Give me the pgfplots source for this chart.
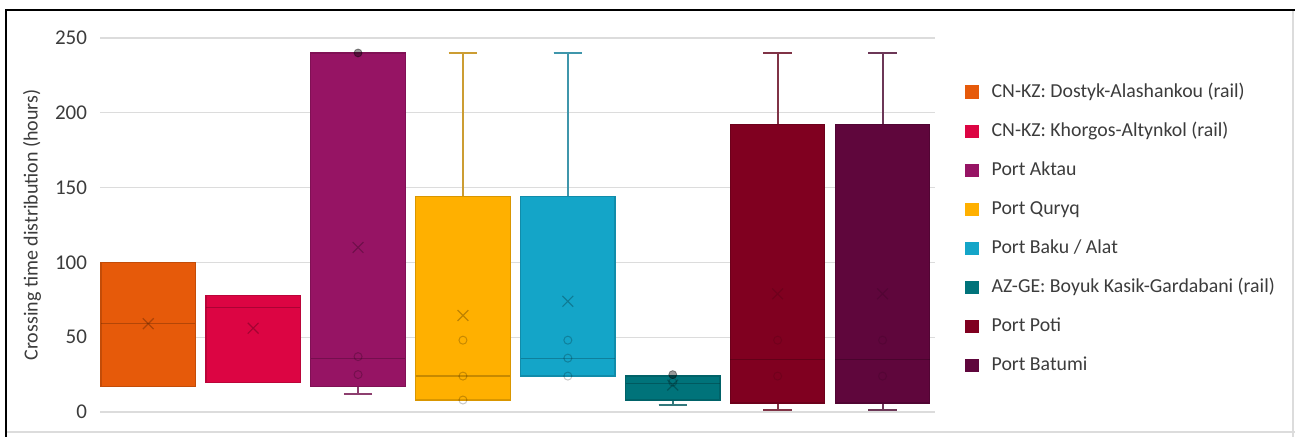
\documentclass[border=0pt]{standalone}
\usepackage{fontspec}
\setmainfont{Carlito}
\usepackage{pgfplots}
\pgfplotsset{compat=1.18}
\usepgfplotslibrary{statistics}
\definecolor{c1}{HTML}{E65A0A}
\definecolor{c2}{HTML}{DC0543}
\definecolor{c3}{HTML}{961464}
\definecolor{c4}{HTML}{FFB000}
\definecolor{c5}{HTML}{14A5C8}
\definecolor{c6}{HTML}{00737A}
\definecolor{c7}{HTML}{800020}
\definecolor{c8}{HTML}{5F063C}
\definecolor{txt}{HTML}{3C3C3C}
\definecolor{grd}{HTML}{DCDCDC}
\pgfplotsset{
  bx/.style={fill=#1, draw=#1!85!black, line width=0.6pt,
    boxplot/every whisker/.style={draw=#1!60!gray, line width=1pt},
    boxplot/every median/.style={draw=black, draw opacity=0.22, line width=0.6pt},
    legend image code/.code={\fill[#1] (0pt,-3pt) rectangle (6pt,3pt);}},
}
\begin{document}
\begin{tikzpicture}
\useasboundingbox (0,0) rectangle (647.5pt,218.5pt);
\fill[white] (0,0) rectangle (647.5pt,218.5pt);
\draw[grd, line width=0.6pt] (646.5pt,0) -- (646.5pt,213.5pt);
\draw[grd, line width=0.6pt] (3pt,2.5pt) -- (647.5pt,2.5pt);
\begin{axis}[
  at={(50pt,12.5pt)}, anchor=south west,
  scale only axis, width=417.5pt, height=187pt,
  xmin=0.54, xmax=8.5, ymin=0, ymax=250,
  ytick={0,50,100,150,200,250},
  xtick=\empty,
  ymajorgrids, grid style={grd, line width=0.6pt},
  axis line style={draw=none},
  major tick length=0pt,
  yticklabel style={font=\fontsize{10.5}{12}\selectfont, text=txt},
  yticklabel shift=3pt,
  /pgf/number format/assume math mode=true,
  every axis y label/.style={at={(axis description cs:-0.0814,0.5)}, anchor=center, rotate=90},
  ylabel={Crossing time distribution (hours)},
  ylabel style={font=\fontsize{10}{12}\selectfont, text=txt},
  boxplot/draw direction=y,
  boxplot/box extend=0.9,
  boxplot/whisker extend=0.27,
  legend style={at={(1.036,0.8805)}, anchor=north west, draw=none, fill=none, inner sep=0pt,
    font=\fontsize{9.9}{12}\selectfont, text=txt,
    nodes={inner sep=0pt, text height=7pt, text depth=2pt},
    row sep=10.55pt,
    /tikz/every odd column/.append style={column sep=6.5pt}},
  legend cell align=left,
]
\addplot[bx=c1, boxplot/whisker extend=0, boxplot prepared={lower whisker=17, lower quartile=17, median=59, upper quartile=100, upper whisker=100, draw position=1}] coordinates {};
\addlegendentry{CN-KZ: Dostyk-Alashankou (rail)}
\addplot[bx=c2, boxplot/whisker extend=0, boxplot prepared={lower whisker=19.5, lower quartile=19.5, median=70, upper quartile=78, upper whisker=78, draw position=2}] coordinates {};
\addlegendentry{CN-KZ: Khorgos-Altynkol (rail)}
\addplot[bx=c3, boxplot prepared={lower whisker=12, lower quartile=17, median=35.5, upper quartile=240, upper whisker=240, draw position=3}] coordinates {};
\addlegendentry{Port Aktau}
\addplot[bx=c4, boxplot prepared={lower whisker=8, lower quartile=8, median=24, upper quartile=144, upper whisker=240, draw position=4}] coordinates {};
\addlegendentry{Port Quryq}
\addplot[bx=c5, boxplot prepared={lower whisker=24, lower quartile=24, median=35.5, upper quartile=144, upper whisker=240, draw position=5}] coordinates {};
\addlegendentry{Port Baku / Alat}
\addplot[bx=c6, boxplot prepared={lower whisker=4.7, lower quartile=8, median=19, upper quartile=24, upper whisker=24, draw position=6}] coordinates {};
\addlegendentry{AZ-GE: Boyuk Kasik-Gardabani (rail)}
\addplot[bx=c7, boxplot prepared={lower whisker=1, lower quartile=6, median=35, upper quartile=192, upper whisker=240, draw position=7}] coordinates {};
\addlegendentry{Port Poti}
\addplot[bx=c8, boxplot prepared={lower whisker=1, lower quartile=6, median=35, upper quartile=192, upper whisker=240, draw position=8}] coordinates {};
\addlegendentry{Port Batumi}
% means
\addplot[forget plot, only marks, mark=x, mark size=3.8pt, draw=black, draw opacity=0.25, line width=0.6pt]
  coordinates {(1,59) (2,56) (3,110) (4,64.5) (5,74) (6,18)};
\addplot[forget plot, only marks, mark=x, mark size=3.8pt, draw=black, draw opacity=0.12, line width=0.6pt]
  coordinates {(7,79) (8,79)};
% inner points
\addplot[forget plot, only marks, mark=o, mark size=2pt, draw=black, draw opacity=0.22, line width=0.5pt]
  coordinates {(3,37) (3,25) (4,48) (4,24) (4,8) (5,48) (5,36) (5,24) (6,20)};
\addplot[forget plot, only marks, mark=*, mark size=2pt, draw=black, fill=black, opacity=0.4]
  coordinates {(3,240) (6,25)};
\addplot[forget plot, only marks, mark=o, mark size=2pt, draw=black, draw opacity=0.1, line width=0.5pt]
  coordinates {(7,48) (7,24) (8,48) (8,24)};
\end{axis}
\draw[black, line width=1.3pt] (3pt,0) -- (3pt,213.5pt) -- (647.5pt,213.5pt);
\end{tikzpicture}
\end{document}
